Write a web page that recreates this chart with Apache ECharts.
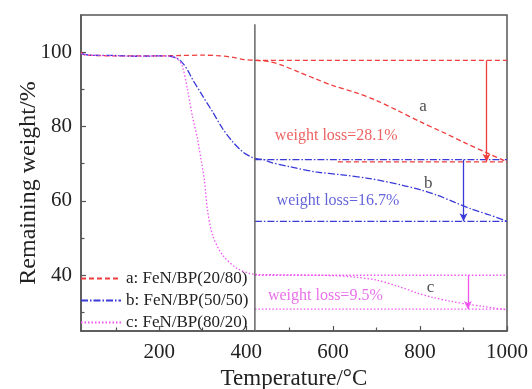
<!DOCTYPE html>
<html><head><meta charset="utf-8">
<script src="https://cdn.jsdelivr.net/npm/echarts@6/dist/echarts.min.js"></script>
<style>html,body{margin:0;padding:0;background:#fff}#c{width:532px;height:389px}</style>
</head><body><div id="c"></div>
<script>
// ---- data ----
const seriesNames = ['a: FeN/BP(20/80)', 'b: FeN/BP(50/50)', 'c: FeN/BP(80/20)'];
const curveA = [[20,100],[30,99.2],[60,99.1],[100,99.0],[150,99.0],[200,99.0],[250,99.1],[300,99.2],[340,99.0],[370,98.6],[395,98.0],[420,97.8],[450,97.5],[480,96.6],[520,94.7],[560,92.8],[600,91.0],[650,89.2],[700,87.0],[750,84.2],[800,81.3],[850,78.6],[900,75.8],[950,73.1],[1000,70.5]];
const curveB = [[20,99.6],[40,99.2],[100,99.1],[150,98.9],[200,99.0],[225,98.9],[240,98.4],[253,97.2],[265,95.2],[276,92.8],[300,88.2],[323,83.9],[346,79.4],[369,75.9],[392,73.2],[410,71.9],[420,71.4],[440,71.1],[455,70.4],[500,69.2],[560,67.8],[620,67.0],[685,66.0],[760,64.2],[800,63.0],[840,61.5],[880,59.6],[916,57.9],[960,56.2],[1000,54.5]];
const curveC = [[20,99.6],[40,99.2],[100,99.0],[150,98.9],[200,99.0],[230,98.8],[243,98.1],[253,96.3],[265,90.0],[276,82.9],[288,76.7],[297,70.5],[304,65.5],[311,57.5],[323,50.7],[346,45.4],[378,41.9],[408,40.5],[424,40.2],[500,40.1],[600,39.9],[650,39.5],[700,38.7],[750,37.0],[794,35.2],[830,34.0],[870,33.0],[910,32.2],[946,31.6],[1000,30.7]];
const levelsA = [97.8, 70.5];   // upper / lower reference levels
const levelsB = [71.1, 54.5];
const levelsC = [40.0, 30.9];
const levelStartX = [420, 611]; // where the upper / lower level lines start (a); b and c start at 420
const markerX = 420;            // vertical separator
const arrowX = [953, 900, 910];
const annotTexts = ['a', 'weight loss=28.1%', 'b', 'weight loss=16.7%', 'c', 'weight loss=9.5%'];
const annotPos = [[807,85.5],[466,77.5],[819,64.6],[470,60.1],[824,36.6],[450,34.4]];
const xTickLabels = [200, 400, 600, 800, 1000];
const xMinorTicks = [100, 300, 500, 700, 900];
const yTickLabels = [40, 60, 80, 100];
const yMinorTicks = [30, 50, 70, 90];

// ---- styles ----
const RED = '#f03c3c', BLUE = '#3a3ad8', MAG = '#f055f0';
const RED_T = '#e83a3a', BLUE_T = '#3c3cd0', MAG_T = '#e44ce4';
const FONT = 'Liberation Serif';
const AX = '#555';
const dashA = [5, 3], dashB = [7, 2, 1.5, 2], dashC = [1.5, 2];

function levelLine(x0, y, color, dash) {
  return {
    type: 'line', data: [[x0, y], [1000, y]], symbol: 'none', silent: true,
    lineStyle: { color, width: 1.3, type: dash }, z: 2
  };
}
function arrowSeries(x, y0, y1, color) {
  return {
    type: 'line', data: [], symbol: 'none', silent: true,
    markLine: {
      silent: true, symbol: ['none', 'arrow'], symbolSize: [6, 8],
      label: { show: false },
      lineStyle: { color, width: 1.3, type: 'solid' },
      data: [[{ coord: [x, y0] }, { coord: [x, y1] }]]
    }
  };
}

const annotColors = ['#222', RED_T, '#222', BLUE_T, '#222', MAG_T];
const annotAlign = ['center', 'left', 'center', 'left', 'center', 'left'];
const plain = v => String(v);

const chart = echarts.init(document.getElementById('c'), null, { renderer: 'canvas' });
chart.setOption({
  animation: false,
  textStyle: { fontFamily: FONT },
  grid: { left: 81, right: 25, top: 15, bottom: 58, outerBoundsMode: 'none', containLabel: false, show: true, borderColor: AX, borderWidth: 1.5, backgroundColor: 'transparent' },
  legend: {
    data: seriesNames, orient: 'vertical', left: 80, top: 270,
    itemWidth: 40, itemHeight: 14, itemGap: 5, padding: 0,
    itemStyle: { opacity: 0 },
    textStyle: { fontFamily: FONT, fontSize: 17, color: '#222' }
  },
  xAxis: [{
    type: 'value', min: 20, max: 1000, position: 'bottom',
    name: 'Temperature/°C', nameLocation: 'middle', nameGap: 36,
    nameTextStyle: { fontFamily: FONT, fontSize: 23, color: '#222' },
    axisLine: { lineStyle: { color: AX, width: 1.5 } },
    axisTick: { inside: true, length: 5, customValues: xTickLabels, lineStyle: { color: AX, width: 1.2 } },
    axisLabel: { customValues: xTickLabels, formatter: plain, fontFamily: FONT, fontSize: 21, color: '#222', margin: 11 },
    splitLine: { show: false }
  }, {
    type: 'value', min: 20, max: 1000, position: 'bottom',
    axisLine: { show: false }, axisLabel: { show: false },
    axisTick: { inside: true, length: 3.5, customValues: xMinorTicks, lineStyle: { color: AX, width: 1.2 } },
    splitLine: { show: false }
  }],
  yAxis: [{
    type: 'value', min: 25, max: 110, position: 'left',
    name: 'Remaining weight/%', nameLocation: 'middle', nameGap: 40, nameMoveOverlap: false,
    nameTextStyle: { fontFamily: FONT, fontSize: 24, color: '#222', padding: [0, 20, 0, 0] },
    axisLine: { show: true, lineStyle: { color: AX, width: 1.5 } },
    axisTick: { inside: true, length: 5, customValues: yTickLabels, lineStyle: { color: AX, width: 1.2 } },
    axisLabel: { customValues: yTickLabels, formatter: plain, fontFamily: FONT, fontSize: 21, color: '#222', margin: 9 },
    splitLine: { show: false }
  }, {
    type: 'value', min: 25, max: 110, position: 'left',
    axisLine: { show: false }, axisLabel: { show: false },
    axisTick: { inside: true, length: 3.5, customValues: yMinorTicks, lineStyle: { color: AX, width: 1.2 } },
    splitLine: { show: false }
  }],
  series: [
    { name: seriesNames[0], type: 'line', data: curveA, symbol: 'none', smooth: 0.3, lineStyle: { color: RED, width: 1.3, type: dashA }, itemStyle: { color: RED }, z: 3 },
    { name: seriesNames[1], type: 'line', data: curveB, symbol: 'none', smooth: 0.3, lineStyle: { color: BLUE, width: 1.3, type: dashB }, itemStyle: { color: BLUE }, z: 3 },
    { name: seriesNames[2], type: 'line', data: curveC, symbol: 'none', smooth: 0.3, lineStyle: { color: MAG, width: 1.3, type: dashC }, itemStyle: { color: MAG }, z: 3 },
    levelLine(levelStartX[0], levelsA[0], RED, dashA),
    levelLine(levelStartX[1], levelsA[1], RED, dashA),
    levelLine(markerX, levelsB[0], BLUE, dashB),
    levelLine(markerX, levelsB[1], BLUE, dashB),
    levelLine(markerX, levelsC[0], MAG, dashC),
    levelLine(markerX, levelsC[1], MAG, dashC),
    { type: 'line', data: [[markerX, 25], [markerX, 107.5]], symbol: 'none', silent: true, lineStyle: { color: '#666', width: 1.5, type: 'solid' }, z: 4 },
    arrowSeries(arrowX[0], levelsA[0], levelsA[1], RED),
    arrowSeries(arrowX[1], levelsB[0], levelsB[1], BLUE),
    arrowSeries(arrowX[2], levelsC[0], levelsC[1], MAG),
    {
      type: 'scatter', symbolSize: 1, silent: true, itemStyle: { color: 'transparent' }, z: 5,
      data: annotTexts.map((t, i) => ({
        value: annotPos[i],
        label: {
          show: true, formatter: t, position: 'inside', align: annotAlign[i], verticalAlign: 'middle',
          fontFamily: FONT, fontSize: (t.length === 1 ? 17 : 16), color: annotColors[i]
        }
      }))
    }
  ]
});
</script></body></html>
